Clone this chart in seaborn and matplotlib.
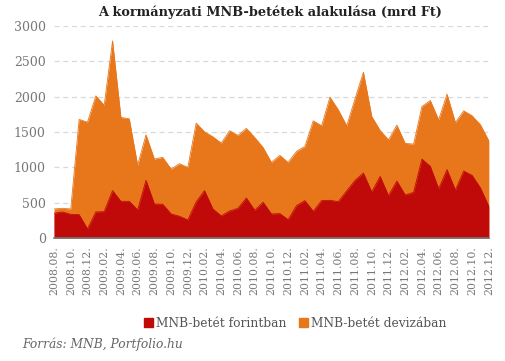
import matplotlib
matplotlib.use("Agg")
import matplotlib.pyplot as plt
import seaborn as sns
import pandas as pd
import numpy as np

months = []
for y in range(2008, 2013):
    for m in range(1, 13):
        if (y == 2008 and m < 8):
            continue
        months.append(f"{y}.{m:02d}.")

forint = [349, 367, 334, 330, 127, 367, 372, 669, 518, 518, 396, 815, 480, 476,
          339, 306, 254, 509, 669, 410, 311, 381, 419, 565, 391, 505, 339, 344,
          259, 457, 528, 377, 528, 532, 513, 664, 815, 918, 650, 871, 598, 805,
          608, 645, 1116, 1013, 697, 966, 678, 947, 885, 707, 447]
total = [410, 419, 410, 1677, 1639, 2011, 1879, 2788, 1705, 1686, 1027, 1460,
         1116, 1140, 975, 1050, 998, 1625, 1502, 1432, 1342, 1517, 1451, 1550,
         1422, 1280, 1069, 1168, 1069, 1225, 1295, 1658, 1587, 1992, 1813, 1587,
         1969, 2346, 1719, 1521, 1389, 1597, 1338, 1328, 1860, 1945, 1672, 2035,
         1634, 1799, 1729, 1601, 1375]
deviza = [t - f for t, f in zip(total, forint)]

series_names = ["MNB-betét forintban", "MNB-betét devizában"]
colors = ["#C00A0A", "#E8761A"]

df = pd.DataFrame({"month": months, "x": np.arange(len(months)),
                   "forint": forint, "deviza": deviza})
df["total"] = df["forint"] + df["deviza"]

sns.set_theme(style="white")
plt.rcParams["font.family"] = ["DejaVu Serif"]

fig = plt.figure(figsize=(5.05, 3.61), dpi=100)
ax = fig.add_axes([0.107, 0.341, 0.861, 0.587])

ax.fill_between(df["x"], 0, df["total"], color=colors[1], lw=0, zorder=2)
ax.fill_between(df["x"], 0, df["forint"], color=colors[0], lw=0, zorder=3)
sns.lineplot(data=df, x="x", y="total", ax=ax, color=colors[1], lw=0.6,
             zorder=2, legend=False)
sns.lineplot(data=df, x="x", y="forint", ax=ax, color=colors[0], lw=0.6,
             zorder=3, legend=False)
if ax.get_legend() is not None:
    ax.get_legend().remove()

ax.set_xlim(0, len(months) - 1)
ax.set_ylim(0, 3000)
ax.set_yticks(range(0, 3001, 500))
ax.set_yticklabels([str(v) for v in range(0, 3001, 500)], color="#777777", fontsize=9)
ax.yaxis.grid(True, color="#D8D8D8", linestyle=(0, (4, 3)), lw=0.9)
ax.set_axisbelow(True)
ax.set_xticks(df["x"][::2])
ax.set_xticklabels(df["month"][::2], rotation=90, color="#777777", fontsize=7.8)
ax.tick_params(axis="both", length=0, pad=6)
ax.set_xlabel("")
ax.set_ylabel("")
for s in ["top", "right", "left"]:
    ax.spines[s].set_visible(False)
ax.spines["bottom"].set_color("#777777")
ax.spines["bottom"].set_linewidth(1.2)
ax.spines["bottom"].set_zorder(5)

fig.text(0.535, 0.965, "A kormányzati MNB-betétek alakulása (mrd Ft)",
         ha="center", va="center", fontsize=9.3, fontweight="bold", color="#222222")

handles = [plt.Rectangle((0, 0), 1, 1, color=c) for c in colors]
fig.legend(handles, series_names, loc="center", bbox_to_anchor=(0.585, 0.105),
           ncol=2, frameon=False, fontsize=8.8, handlelength=0.7, handleheight=0.7,
           handletextpad=0.3, columnspacing=1.0, labelcolor="#555555")

fig.text(0.044, 0.047, "Forrás: MNB, Portfolio.hu", ha="left", va="center",
         fontsize=8.8, style="italic", color="#666666")

fig.savefig("out.png", dpi=100)
